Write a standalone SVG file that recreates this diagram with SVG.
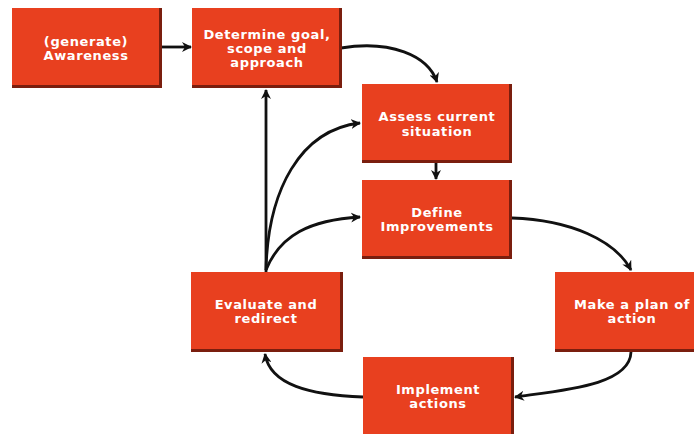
<svg xmlns="http://www.w3.org/2000/svg" width="694" height="434" viewBox="0 0 694 434">
  <style>
    .box { fill: #E8401F; }
    .shade { fill: #7A1E0E; }
    .lbl { font-family: "DejaVu Sans", Verdana, sans-serif; font-weight: bold; font-size: 13px; letter-spacing: 0.6px; fill: #FFFFFF; text-anchor: middle; }
    .conn { fill: none; stroke: #111111; stroke-width: 2.8; marker-end: url(#arrow); }
  </style>
  <defs>
    <marker id="arrow" viewBox="0 0 10 10" refX="9" refY="5" markerWidth="10" markerHeight="10" markerUnits="userSpaceOnUse" orient="auto">
      <path d="M0,0 L10,5 L0,10 L3,5 Z" fill="#111111"/>
    </marker>
  </defs>

  <rect width="694" height="434" fill="#FFFFFF"/>

  <!-- connectors -->
  <g id="connectors">
    <path class="conn" d="M160,47 L191,47"/>
    <path class="conn" d="M341,48 C390,40 428,55 437,82"/>
    <path class="conn" d="M436,163 L436,179"/>
    <path class="conn" d="M512,218 C570,220 615,240 631,270"/>
    <path class="conn" d="M631,352 C630,385 565,390 515,397"/>
    <path class="conn" d="M363,397 C310,395 270,385 265,354"/>
    <path class="conn" d="M266,272 L266,90"/>
    <path class="conn" d="M266,270 C268,190 300,130 360,123"/>
    <path class="conn" d="M266,270 C280,235 310,220 360,217"/>
  </g>

  <!-- nodes -->
  <g id="awareness">
    <rect class="shade" x="12" y="8" width="150" height="80"/>
    <rect class="box" x="12" y="8" width="147" height="77"/>
    <text class="lbl" x="86" y="46">(generate)</text>
    <text class="lbl" x="86" y="60">Awareness</text>
  </g>
  <g id="determine">
    <rect class="shade" x="192" y="8" width="150" height="80"/>
    <rect class="box" x="192" y="8" width="147" height="77"/>
    <text class="lbl" x="267" y="39">Determine goal,</text>
    <text class="lbl" x="267" y="53">scope and</text>
    <text class="lbl" x="267" y="67">approach</text>
  </g>
  <g id="assess">
    <rect class="shade" x="362" y="84" width="150" height="79"/>
    <rect class="box" x="362" y="84" width="147" height="76"/>
    <text class="lbl" x="437" y="121">Assess current</text>
    <text class="lbl" x="437" y="136">situation</text>
  </g>
  <g id="define">
    <rect class="shade" x="362" y="180" width="150" height="79"/>
    <rect class="box" x="362" y="180" width="147" height="76"/>
    <text class="lbl" x="437" y="217">Define</text>
    <text class="lbl" x="437" y="231">Improvements</text>
  </g>
  <g id="evaluate">
    <rect class="shade" x="191" y="272" width="152" height="80"/>
    <rect class="box" x="191" y="272" width="149" height="77"/>
    <text class="lbl" x="266" y="309">Evaluate and</text>
    <text class="lbl" x="266" y="323">redirect</text>
  </g>
  <g id="plan">
    <rect class="shade" x="555" y="272" width="152" height="80"/>
    <rect class="box" x="555" y="272" width="149" height="77"/>
    <text class="lbl" x="632" y="309">Make a plan of</text>
    <text class="lbl" x="632" y="323">action</text>
  </g>
  <g id="implement">
    <rect class="shade" x="363" y="357" width="151" height="82"/>
    <rect class="box" x="363" y="357" width="148" height="82"/>
    <text class="lbl" x="438" y="394">Implement</text>
    <text class="lbl" x="438" y="408">actions</text>
  </g>
</svg>
